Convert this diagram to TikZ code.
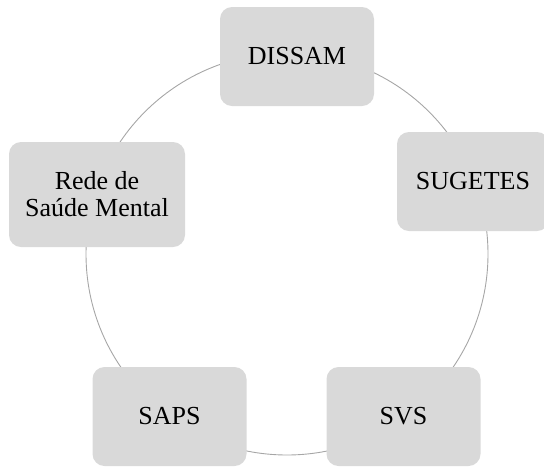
\documentclass[tikz,border=0pt]{standalone}
\usepackage{fontspec}
\setmainfont{Liberation Serif}
\definecolor{boxfill}{HTML}{D9D9D9}
\definecolor{ringcol}{HTML}{A6A6A6}
\begin{document}
\begin{tikzpicture}[x=1pt,y=-1pt,
  box/.style={fill=boxfill, draw=none, rounded corners=12pt, minimum width=154pt, minimum height=99pt,
    align=center, inner sep=0pt, font=\fontsize{26}{27}\selectfont, text=black},
  ring/.style={draw=ringcol, line width=0.9pt}]
\useasboundingbox (0,0) rectangle (544,467);
\clip (0,0) rectangle (544,467);
\coordinate (c) at (287,254);
\draw[ring] (c) circle (201pt);
\node[box] (dissam) at (297,56.5) {DISSAM};
\node[box, minimum width=152pt] (sugetes) at (473,181.5) {SUGETES};
\node[box, minimum width=176pt, minimum height=105pt] (rede) at (97,194.5) {Rede de\\Saúde Mental};
\node[box] (saps) at (169.5,416.5) {SAPS};
\node[box] (svs) at (403.5,416.5) {SVS};
\end{tikzpicture}
\end{document}
